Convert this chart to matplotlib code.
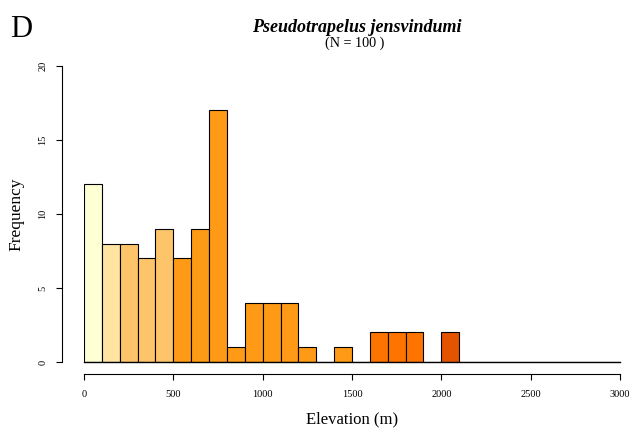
import matplotlib
matplotlib.use("Agg")
import matplotlib.pyplot as plt
import numpy as np

plt.rcParams["font.family"] = ["Liberation Serif", "DejaVu Serif"]

# histogram of elevations, 100 m bins from 0 to 3000
bin_edges = list(range(0, 3100, 100))
counts = [12, 8, 8, 7, 9, 7, 9, 17, 1, 4, 4, 4, 1, 0, 1, 0, 2, 2, 2, 0, 2,
          0, 0, 0, 0, 0, 0, 0, 0, 0]
bin_colors = (["#FFFFD4", "#FEE3A1"] + ["#FEC46A"] * 3 + ["#FE9A16"] * 11
              + ["#FE7400"] * 4 + ["#E35300"] * 10)

species = "Pseudotrapelus jensvindumi"
n_total = 100
xticks = [0, 500, 1000, 1500, 2000, 2500, 3000]
yticks = [0, 5, 10, 15, 20]

fig = plt.figure(figsize=(6.33, 4.3), dpi=100)
ax = fig.add_axes([84 / 633, 1 - 362 / 430, 536 / 633, 296 / 430])

left = np.array(bin_edges[:-1])
ax.bar(left, counts, width=100, align="edge", color=bin_colors,
       edgecolor="black", linewidth=0.8)
# baseline drawn by the empty bins
ax.plot([bin_edges[0], bin_edges[-1]], [0, 0], color="black", lw=1.0,
        clip_on=False, zorder=5)

ax.set_xlim(0, 3000)
ax.set_ylim(0, 20)
ax.set_xticks(xticks)
ax.set_yticks(yticks)
ax.spines[["top", "right"]].set_visible(False)
ax.spines["left"].set_position(("outward", 16))
ax.spines["bottom"].set_position(("outward", 8.6))
ax.spines["left"].set_bounds(0, 20)
ax.spines["bottom"].set_bounds(0, 3000)
ax.tick_params(axis="both", direction="out", length=4.3, width=0.8, labelsize=7.5)
ax.tick_params(axis="x", pad=7)
ax.tick_params(axis="y", pad=6)
for lab in ax.get_yticklabels():
    lab.set_rotation(90)
    lab.set_va("center")

ax.set_xlabel("Elevation (m)", fontsize=12, labelpad=9)
ax.set_ylabel("Frequency", fontsize=12.5, labelpad=10)

fig.text(357 / 633, 1 - 32 / 430, species, fontsize=13, fontweight="bold",
         fontstyle="italic", ha="center", va="baseline")
fig.text(355 / 633, 1 - 46.5 / 430, "(N = %d )" % n_total, fontsize=10.2,
         ha="center", va="baseline")
fig.text(10 / 633, 1 - 37 / 430, "D", fontsize=22, ha="left", va="baseline")

fig.savefig("out.png", dpi=100)
